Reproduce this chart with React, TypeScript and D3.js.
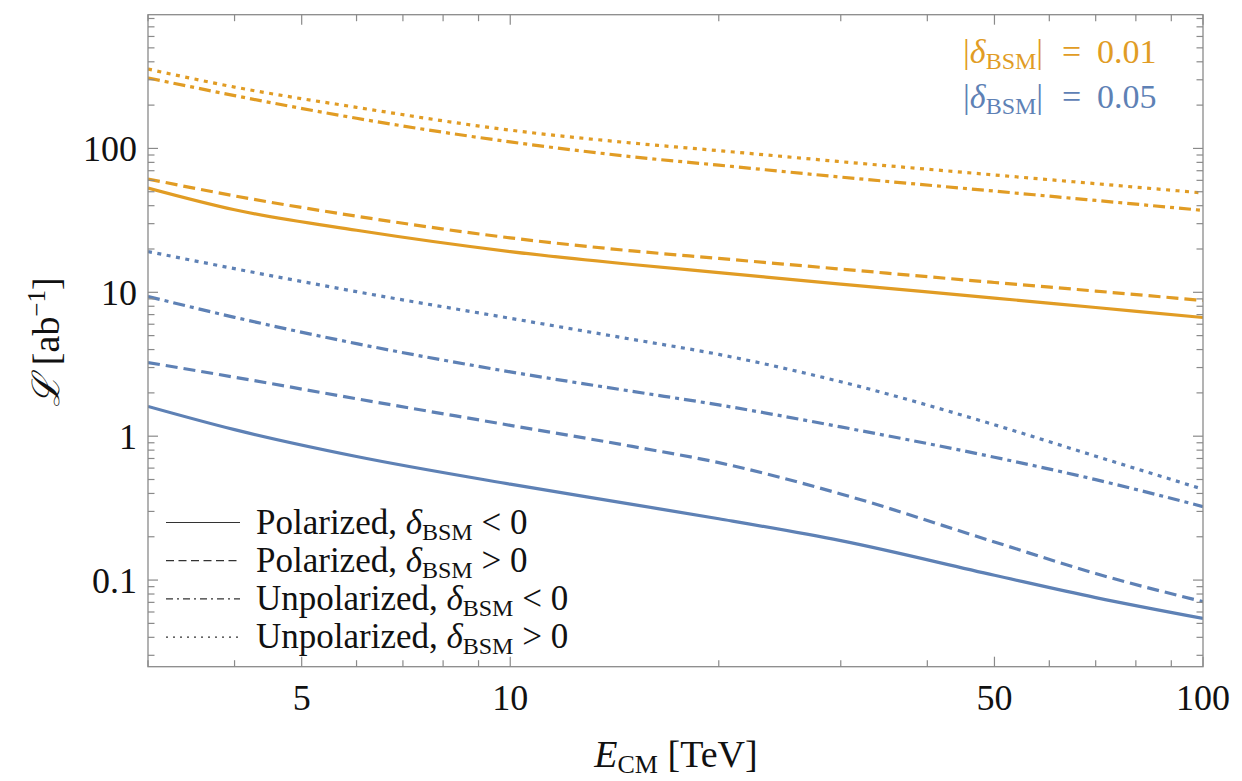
import React from "react";
import * as d3 from "d3";

// ---------- data ----------
const energies = [3, 4, 6, 10, 15, 20, 30, 50, 70, 100];

// |delta_BSM| = 0.01 (orange)
const orangePolNeg = [53.1, 37.5, 27.0, 19.2, 15.6, 13.7, 11.4, 9.12, 7.84, 6.68];
const orangePolPos = [61.3, 46.8, 33.8, 23.9, 19.4, 17.2, 14.5, 11.7, 10.2, 8.77];
const orangeUnpolNeg = [309, 233, 162, 111, 87.5, 76.5, 63.2, 50.5, 43.5, 37.1];
const orangeUnpolPos = [356, 267, 193, 134, 109, 96.5, 80.9, 65.4, 56.9, 49.0];

// |delta_BSM| = 0.05 (blue)
const bluePolNeg = [1.61, 1.11, 0.722, 0.464, 0.336, 0.267, 0.188, 0.108, 0.0755, 0.0541];
const bluePolPos = [3.25, 2.57, 1.82, 1.19, 0.849, 0.655, 0.397, 0.184, 0.111, 0.0708];
const blueUnpolNeg = [9.35, 6.7, 4.4, 2.8, 2.05, 1.65, 1.16, 0.714, 0.499, 0.324];
const blueUnpolPos = [19.2, 14.6, 10.1, 6.6, 4.71, 3.7, 2.39, 1.2, 0.726, 0.428];

const xMajorTicks = [5, 10, 50, 100];
const xTickLabels = ["5", "10", "50", "100"];
const yMajorTicks = [0.1, 1, 10, 100];
const yTickLabels = ["0.1", "1", "10", "100"];

const legendLabels = [
  { kind: "Polarized", sign: "<" },
  { kind: "Polarized", sign: ">" },
  { kind: "Unpolarized", sign: "<" },
  { kind: "Unpolarized", sign: ">" },
];
const annotationValues = ["0.01", "0.05"];

// ---------- styling ----------
const W = 1242;
const H = 781;
const left = 148;
const right = 1203;
const top = 14.7;
const bottom = 666.7;
const ORANGE = "#E19C24";
const BLUE = "#5E81B5";
const FRAME = "#8a8a8a";
const FONT = "'Liberation Serif', 'DejaVu Serif', serif";

const dashes: Record<string, string | undefined> = {
  solid: undefined,
  dashed: "12,6",
  dotdash: "12,5,4,5",
  dotted: "4,5.5",
};
const legendDashes: Record<string, string | undefined> = {
  solid: undefined,
  dashed: "8,4.5",
  dotdash: "7,4,2,4",
  dotted: "2,5",
};
const styleOrder = ["solid", "dashed", "dotdash", "dotted"];

export default function App() {
  const x = d3.scaleLog().domain([3, 100]).range([left, right]);
  const y = d3.scaleLog().domain([0.025, 850]).range([bottom, top]);

  const line = d3
    .line<[number, number]>()
    .x((d) => x(d[0]))
    .y((d) => y(d[1]))
    .curve(d3.curveMonotoneX);

  const series = [
    { vals: orangeUnpolPos, color: ORANGE, style: "dotted" },
    { vals: orangeUnpolNeg, color: ORANGE, style: "dotdash" },
    { vals: orangePolPos, color: ORANGE, style: "dashed" },
    { vals: orangePolNeg, color: ORANGE, style: "solid" },
    { vals: blueUnpolPos, color: BLUE, style: "dotted" },
    { vals: blueUnpolNeg, color: BLUE, style: "dotdash" },
    { vals: bluePolPos, color: BLUE, style: "dashed" },
    { vals: bluePolNeg, color: BLUE, style: "solid" },
  ];

  const xAllTicks = x.ticks(20).filter((t) => t >= 3 && t <= 100);
  const yAllTicks = y.ticks(40).filter((t) => t >= 0.025 && t <= 850);
  const isMajorX = (t: number) => xMajorTicks.some((m) => Math.abs(m - t) < 1e-9);
  const isMajorY = (t: number) => yMajorTicks.some((m) => Math.abs(m - t) / m < 1e-9);

  const MAJ = 10;
  const MIN = 6.5;

  return (
    <svg
      width={W}
      height={H}
      style={{ position: "absolute", left: 0, top: 0, background: "#fff" }}
      fontFamily={FONT}
    >
      <rect x={0} y={0} width={W} height={H} fill="#fff" />
      <defs>
        <clipPath id="plotclip">
          <rect x={left} y={top} width={right - left} height={bottom - top} />
        </clipPath>
      </defs>

      {/* series */}
      <g clipPath="url(#plotclip)">
        {series.map((s, i) => (
          <path
            key={i}
            d={line(energies.map((e, j) => [e, s.vals[j]]) as [number, number][]) || ""}
            fill="none"
            stroke={s.color}
            strokeWidth={3.2}
            strokeDasharray={dashes[s.style]}
            strokeLinecap="butt"
          />
        ))}
      </g>

      {/* frame */}
      <rect
        x={left}
        y={top}
        width={right - left}
        height={bottom - top}
        fill="none"
        stroke={FRAME}
        strokeWidth={1.3}
      />

      {/* x ticks (bottom and top) */}
      {xAllTicks.map((t, i) => {
        const len = isMajorX(t) ? MAJ : MIN;
        const xx = x(t);
        return (
          <g key={"xt" + i} stroke={FRAME} strokeWidth={1.2}>
            <line x1={xx} x2={xx} y1={bottom} y2={bottom - len} />
            <line x1={xx} x2={xx} y1={top} y2={top + len} />
          </g>
        );
      })}
      {/* y ticks (left and right) */}
      {yAllTicks.map((t, i) => {
        const len = isMajorY(t) ? MAJ : MIN;
        const yy = y(t);
        return (
          <g key={"yt" + i} stroke={FRAME} strokeWidth={1.2}>
            <line x1={left} x2={left + len} y1={yy} y2={yy} />
            <line x1={right} x2={right - len} y1={yy} y2={yy} />
          </g>
        );
      })}

      {/* tick labels */}
      {xMajorTicks.map((t, i) => (
        <text
          key={"xl" + i}
          x={x(t)}
          y={710}
          textAnchor="middle"
          fontSize={36}
          fill="#111"
        >
          {xTickLabels[i]}
        </text>
      ))}
      {yMajorTicks.map((t, i) => (
        <text
          key={"yl" + i}
          x={137}
          y={y(t) + 12.5}
          textAnchor="end"
          fontSize={36}
          fill="#111"
        >
          {yTickLabels[i]}
        </text>
      ))}

      {/* axis labels */}
      <text x={676} y={767} textAnchor="middle" fontSize={38} fill="#111">
        <tspan fontStyle="italic">E</tspan>
        <tspan fontSize={26} dy={6}>CM</tspan>
        <tspan dy={-6}>{"\u00A0[TeV]"}</tspan>
      </text>
      <text
        transform="translate(59,342) rotate(-90)"
        textAnchor="middle"
        fontSize={38}
        fill="#111"
      >
        <tspan fontStyle="italic" fontFamily="'DejaVu Serif', serif">ℒ</tspan>
        <tspan>{"\u00A0[ab"}</tspan>
        <tspan fontSize={25} dy={-14}>−1</tspan>
        <tspan dy={14}>]</tspan>
      </text>

      {/* annotations */}
      {annotationValues.map((v, i) => (
        <text
          key={"an" + i}
          y={62.5 + i * 45.5}
          fontSize={34}
          fill={i === 0 ? ORANGE : BLUE}
        >
          <tspan x={963}>|</tspan>
          <tspan fontStyle="italic">δ</tspan>
          <tspan fontSize={24} dy={6}>BSM</tspan>
          <tspan dy={-6}>|</tspan>
          <tspan x={1062}>=</tspan>
          <tspan x={1097}>{v}</tspan>
        </text>
      ))}

      {/* legend */}
      {legendLabels.map((l, i) => {
        const cy = 522.5 + i * 38.2;
        return (
          <g key={"lg" + i}>
            <line
              x1={166}
              x2={240}
              y1={cy}
              y2={cy}
              stroke="#333"
              strokeWidth={1.2}
              strokeDasharray={legendDashes[styleOrder[i]]}
            />
            <text x={256} y={cy + 11} fontSize={35} fill="#111">
              <tspan>{l.kind + ",\u00A0"}</tspan>
              <tspan fontStyle="italic">δ</tspan>
              <tspan fontSize={24} dy={6}>BSM</tspan>
              <tspan dy={-6}>{"\u00A0" + l.sign + "\u00A0"}0</tspan>
            </text>
          </g>
        );
      })}
    </svg>
  );
}
